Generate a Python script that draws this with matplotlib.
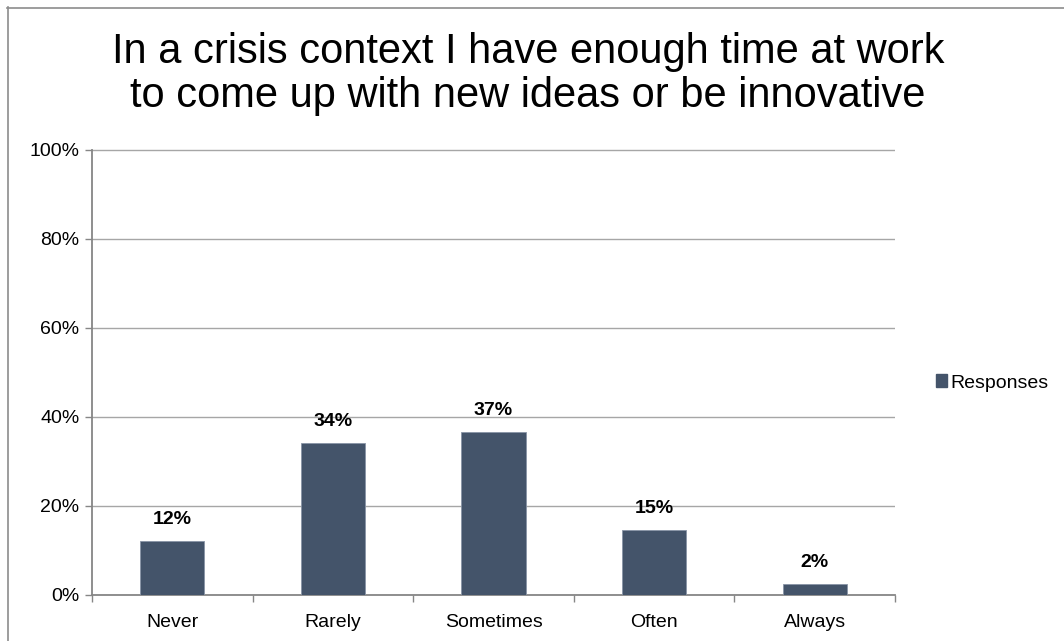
import matplotlib
matplotlib.use("Agg")
import matplotlib.pyplot as plt
from matplotlib.lines import Line2D
from matplotlib.patches import Patch
from matplotlib.ticker import FuncFormatter, MultipleLocator

plt.rcParams['font.family'] = ['Liberation Sans', 'DejaVu Sans']

categories = ["Never", "Rarely", "Sometimes", "Often", "Always"]
values = [12.1, 34.1, 36.6, 14.6, 2.4]
labels = ["12%", "34%", "37%", "15%", "2%"]
series_name = "Responses"
title = "In a crisis context I have enough time at work\nto come up with new ideas or be innovative"

bar_color = "#44546A"
grid_color = "#A6A6A6"
axis_color = "#868686"

W, H = 1064, 641
fig = plt.figure(figsize=(W / 100, H / 100), dpi=100)
ax = fig.add_axes([92 / W, 1 - 594.5 / H, (895 - 92) / W, (594.5 - 149.5) / H])

x = list(range(len(categories)))
bars = ax.bar(x, values, width=0.4, color=bar_color, edgecolor="#8894A6",
              linewidth=0.6, zorder=3, label=series_name)

for xi, v, lab in zip(x, values, labels):
    ax.annotate(lab, (xi, v), xytext=(0, 9), textcoords="offset points",
                ha="center", va="bottom", fontsize=14, fontweight="bold",
                color="black", zorder=4)

ax.set_xlim(-0.5, len(categories) - 0.5)
ax.set_ylim(0, 100)
ax.yaxis.set_major_locator(MultipleLocator(20))
ax.yaxis.set_major_formatter(FuncFormatter(lambda v, p: f"{v:.0f}%"))
ax.grid(axis="y", color=grid_color, linewidth=1.0, zorder=0)

ax.set_xticks(x)
ax.set_xticklabels(categories, fontsize=14)
ax.tick_params(axis="x", length=0, pad=14)
ax.set_xticks([i + 0.5 for i in range(-1, len(categories))], minor=True)
ax.tick_params(axis="x", which="minor", length=5, color=axis_color, width=1)
ax.tick_params(axis="y", labelsize=14, length=5, color=axis_color, width=1, pad=4)

for side in ("top", "right"):
    ax.spines[side].set_visible(False)
for side in ("left", "bottom"):
    ax.spines[side].set_color(axis_color)
    ax.spines[side].set_linewidth(1.3)

fig.text(528 / W, 1 - 74 / H, title, ha="center", va="center",
         fontsize=30, linespacing=1.13)

handle = Patch(facecolor=bar_color, edgecolor=bar_color)
fig.legend([handle], [series_name], loc="center left",
           bbox_to_anchor=(926 / W, 1 - 383 / H), frameon=False,
           fontsize=14, handlelength=0.6, handleheight=0.6, handletextpad=0.15,
           borderpad=0)

# outer chart frame
fig.add_artist(Line2D([7 / W, 1.0], [1 - 7.5 / H, 1 - 7.5 / H],
                      transform=fig.transFigure, color="#8C8C8C", linewidth=1.2))
fig.add_artist(Line2D([7.5 / W, 7.5 / W], [0.0, 1 - 7 / H],
                      transform=fig.transFigure, color="#8C8C8C", linewidth=1.2))

fig.savefig("out.png", dpi=100, facecolor="white")
